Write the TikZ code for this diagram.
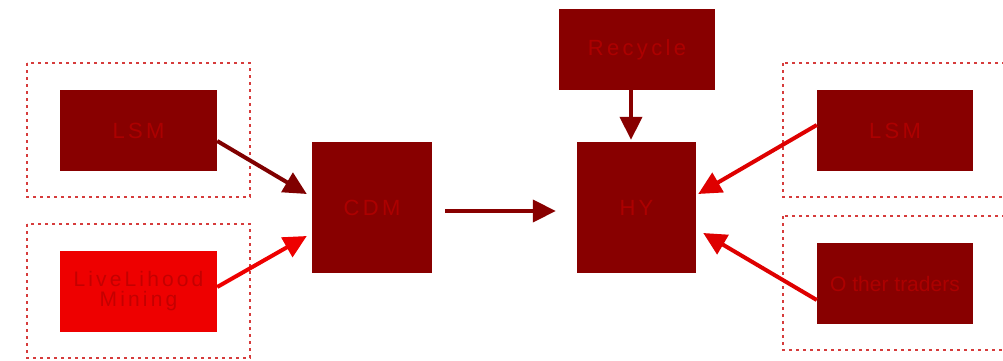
\documentclass[tikz,border=0pt]{standalone}
\usepackage{fontspec}
\setmainfont{Liberation Sans}
\newfontfamily\spacedfont[LetterSpace=15]{Liberation Sans}
\usepackage{tikz}
\usetikzlibrary{positioning,arrows.meta,calc}
\definecolor{boxred}{RGB}{136,0,0}
\definecolor{brightred}{RGB}{238,0,0}
\definecolor{txtred}{RGB}{172,0,0}
\definecolor{linered}{RGB}{222,0,0}
\definecolor{dotred}{RGB}{214,60,60}
\tikzstyle{actor}=[rectangle,fill=boxred,text=txtred,inner sep=0pt,align=center,
  font=\spacedfont\fontsize{22}{20}\selectfont]
\tikzstyle{group}=[draw=dotred,line width=2pt,dash pattern=on 3pt off 4pt]
\tikzstyle{flow}=[line width=4pt,-{Triangle[length=23pt,width=22pt]}]

\begin{document}
\begin{tikzpicture}[x=1pt,y=-1pt]
  \useasboundingbox (0,0) rectangle (1003,361);
  \clip (0,0) rectangle (1003,361);
  % dotted groups
  \draw[group] (27,63) rectangle (250,197);
  \draw[group] (27,224) rectangle (250,358);
  \draw[group] (783,63) rectangle (1012,197);
  \draw[group] (783,216) rectangle (1012,350);
  % boxes
  \node(lsmL)[actor,minimum width=157pt,minimum height=81pt] at (138.5,130.5) {LSM};
  \node(lihood)[actor,fill=brightred,text={rgb,255:red,196;green,0;blue,0},
    font=\spacedfont\fontsize{21}{20}\selectfont,
    minimum width=157pt,minimum height=81pt] at (138.5,291.5) {LiveLihood\\Mining};
  \node(cdm)[actor,minimum width=120pt,minimum height=131pt] at (372,207.5) {CDM};
  \node(hy)[actor,minimum width=119pt,minimum height=131pt] at (636.5,207.5) {HY};
  \node(recycle)[actor,minimum width=156pt,minimum height=81pt] at (637,49.5) {Recycle};
  \node(lsmR)[actor,minimum width=156pt,minimum height=81pt] at (895,130.5) {LSM};
  \node(traders)[actor,font=\fontsize{21}{20}\selectfont,
    minimum width=156pt,minimum height=81pt] at (895,283.5) {O ther traders};
  % flows
  \draw[flow,draw=boxred!94!black] ([yshift=-10.5pt]lsmL.east) -- ([xshift=-5pt,yshift=13.5pt]cdm.west);
  \draw[flow,draw=brightred] ([yshift=4.5pt]lihood.east) -- ([xshift=-5pt,yshift=-28.5pt]cdm.west);
  \draw[flow,draw=boxred] ([xshift=13pt,yshift=-3.5pt]cdm.east) -- ([xshift=-21pt,yshift=-3.5pt]hy.west);
  \draw[flow,draw=boxred] ([xshift=-6pt]recycle.south) -- ([xshift=-5.5pt,yshift=2pt]hy.north);
  \draw[flow,draw=linered] ([yshift=5.5pt]lsmR.west) -- ([xshift=2pt,yshift=13.5pt]hy.east);
  \draw[flow,draw=linered] ([yshift=-16.5pt]traders.west) -- ([xshift=7pt,yshift=-25.5pt]hy.east);
\end{tikzpicture}
\end{document}
